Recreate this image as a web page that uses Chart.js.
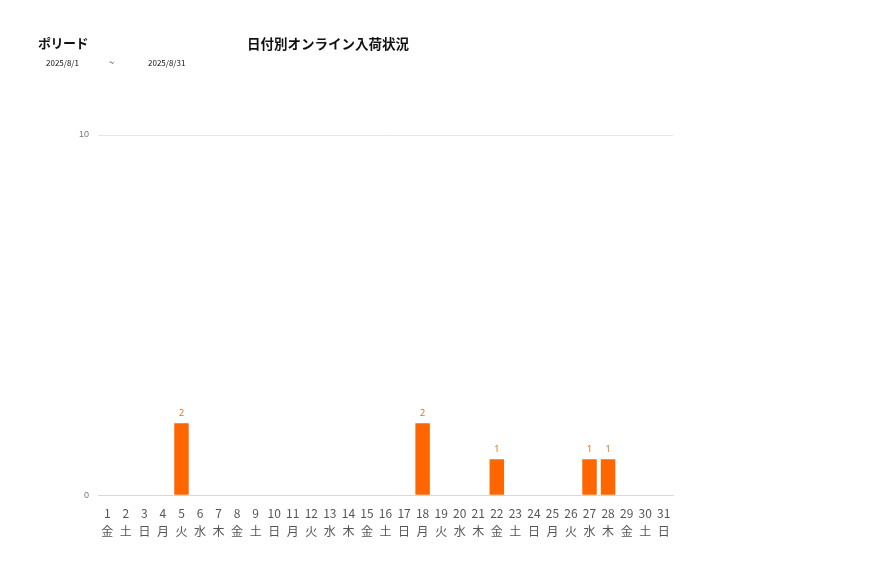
<!DOCTYPE html>
<html>
<head>
<meta charset="utf-8">
<script src="https://cdn.jsdelivr.net/npm/chart.js@4/dist/chart.umd.min.js"></script>
<style>
  body { margin: 0; background: #fff; font-family: "Noto Sans CJK JP", "Noto Sans", sans-serif; }
  #wrap { position: relative; width: 877px; height: 578px; }
  #chart { position: absolute; left: 0; top: 0; }
  .t { position: absolute; white-space: nowrap; color: #111; }
</style>
</head>
<body>
<div id="wrap">
  <canvas id="chart" width="877" height="578"></canvas>
  <div class="t" style="left:38px; top:33px; font-size:13px; font-weight:bold; letter-spacing:-0.5px;">ポリード</div>
  <div class="t" style="left:247px; top:33px; font-size:13.5px; font-weight:bold;">日付別オンライン入荷状況</div>
  <div class="t" style="left:46px; top:57px; font-size:8px;">2025/8/1</div>
  <div class="t" style="left:109px; top:56px; font-size:9px;">~</div>
  <div class="t" style="left:148px; top:57px; font-size:8px;">2025/8/31</div>
</div>
<script>
// 日付と曜日
const days = ['1','2','3','4','5','6','7','8','9','10','11','12','13','14','15','16',
  '17','18','19','20','21','22','23','24','25','26','27','28','29','30','31'];
const weekdays = ['金','土','日','月','火','水','木','金','土','日','月','火','水','木','金','土',
  '日','月','火','水','木','金','土','日','月','火','水','木','金','土','日'];
// 入荷数
const counts = [0,0,0,0,2,0,0,0,0,0,0,0,0,0,0,0,0,2,0,0,0,1,0,0,0,0,1,1,0,0,0];
const yTicks = [0, 10];

// 棒の上に数値を書く
const valueLabels = {
  id: 'valueLabels',
  afterDatasetsDraw(chart) {
    const ctx = chart.ctx;
    const meta = chart.getDatasetMeta(0);
    ctx.save();
    ctx.font = '9px "Noto Sans", sans-serif';
    ctx.fillStyle = '#e0701f';
    ctx.textAlign = 'center';
    ctx.textBaseline = 'bottom';
    meta.data.forEach((bar, i) => {
      if (!counts[i]) return;
      ctx.fillText(counts[i], bar.x, bar.y - 5);
    });
    ctx.restore();
  }
};

const labels = days.map((d, i) => [d, weekdays[i]]);

new Chart(document.getElementById('chart'), {
  type: 'bar',
  data: {
    labels: labels,
    datasets: [{
      data: counts,
      backgroundColor: '#ff6600',
      barPercentage: 0.78,
      categoryPercentage: 1.0
    }]
  },
  options: {
    responsive: false,
    animation: false,
    layout: { padding: { left: 70, right: 204, top: 135, bottom: 36 } },
    plugins: { legend: { display: false }, tooltip: { enabled: false } },
    scales: {
      x: {
        grid: { display: false },
        border: { color: '#d9d9d9' },
        ticks: {
          color: '#555',
          font: { size: 12, family: '"Noto Sans CJK JP", sans-serif', lineHeight: 1.45 },
          padding: 2,
          maxRotation: 0,
          autoSkip: false
        }
      },
      y: {
        min: 0,
        max: 10,
        afterBuildTicks(axis) { axis.ticks = yTicks.map(v => ({ value: v })); },
        grid: { color: '#e6e6e6', drawTicks: false },
        border: { display: false },
        ticks: { color: '#777', font: { size: 9 }, padding: 9 }
      }
    }
  },
  plugins: [valueLabels]
});
</script>
</body>
</html>
